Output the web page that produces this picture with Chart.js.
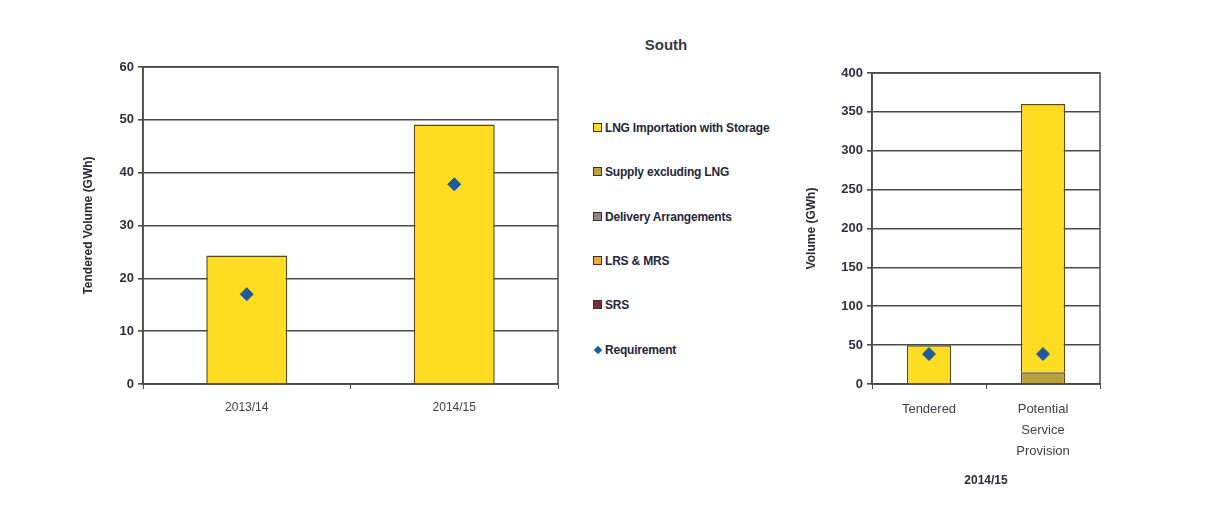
<!DOCTYPE html>
<html>
<head>
<meta charset="utf-8">
<script src="https://cdn.jsdelivr.net/npm/chart.js@4.4.0/dist/chart.umd.min.js"></script>
<style>
  html, body { margin: 0; padding: 0; background: #ffffff; }
  #wrap { position: relative; width: 1210px; height: 523px; overflow: hidden; background: #fff; }
  .box { position: absolute; }
  #title { position: absolute; left: 566px; top: 36px; width: 200px; text-align: center;
           font: bold 15px "Liberation Sans", Arial, sans-serif; color: #3a3a44; }
  #legend { position: absolute; left: 593px; top: 118px; font: bold 12px "Liberation Sans", Arial, sans-serif; color: #26263a; letter-spacing: -0.2px; }
  .li { position: absolute; left: 0; white-space: nowrap; height: 20px; line-height: 20px; }
  .mk { display: inline-block; width: 7px; height: 7px; border: 1.5px solid #3a3320; vertical-align: middle; margin-right: 3px; margin-top: -2px; }
  .dm { display: inline-block; width: 6px; height: 6px; background: #1f5a9c; transform: rotate(45deg); vertical-align: middle; margin: -2px 4px 0 2px; }
</style>
</head>
<body>
<div id="wrap">
  <div id="title">South</div>
  <div class="box" style="left:60px; top:50px; width:520px; height:380px;"><canvas id="left"></canvas></div>
  <div class="box" style="left:790px; top:50px; width:320px; height:470px;"><canvas id="right"></canvas></div>
  <div id="legend"></div>
</div>
<script>
// ---- data ----
const leftCategories = ['2013/14', '2014/15'];
const leftTendered = [24.3, 49.1];
const leftRequirement = [17, 37.8];

const rightCategories = [['Tendered'], ['Potential', 'Service', 'Provision']];
const rightAxisTitle = '2014/15';
const srs = [0, 0];
const lrsMrs = [0, 0];
const deliveryArrangements = [0, 0];
const supplyExclLNG = [0, 15];
const lngImportation = [50, 345];
const rightRequirement = [38.5, 38.5];

const seriesNames = ['LNG Importation with Storage', 'Supply excluding LNG', 'Delivery Arrangements', 'LRS & MRS', 'SRS', 'Requirement'];
const leftTicks = { min: 0, max: 60, step: 10 };
const rightTicks = { min: 0, max: 400, step: 50 };

// ---- styles ----
const COL = {
  lng: '#fddc22', supply: '#b9a040', delivery: '#8a8a8a', lrs: '#f0a832', srs: '#7d2a3a',
  req: '#1f5a9c', border: '#5a4a18', grid: '#4a4a4a'
};
const FONT = '"Liberation Sans", Arial, sans-serif';
const tickFont = { family: FONT, size: 13, weight: 'bold' };
const tickColor = '#30303c';

// legend
const legendColors = [COL.lng, COL.supply, COL.delivery, COL.lrs, COL.srs];
const legendYs = [0, 44, 89, 133, 177, 222];
const legendEl = document.getElementById('legend');
seriesNames.forEach((n, i) => {
  const d = document.createElement('div');
  d.className = 'li';
  d.style.top = legendYs[i] + 'px';
  if (i < 5) {
    d.innerHTML = '<span class="mk" style="background:' + legendColors[i] + '"></span>';
  } else {
    d.innerHTML = '<span class="dm"></span>';
  }
  d.appendChild(document.createTextNode(n));
  legendEl.appendChild(d);
});

const frame = {
  id: 'frame',
  beforeDatasetsDraw(chart) {
    const a = chart.chartArea, ctx = chart.ctx;
    ctx.save();
    ctx.strokeStyle = COL.grid;
    ctx.lineWidth = 1.5;
    ctx.strokeRect(a.left, a.top, a.right - a.left, a.bottom - a.top);
    ctx.restore();
  }
};

function yScale(t, title, titlePad, width) {
  return {
    min: t.min, max: t.max,
    ticks: { stepSize: t.step, font: tickFont, color: tickColor, padding: 4 },
    grid: { color: COL.grid, lineWidth: 1.6, tickLength: 5, drawTicks: true },
    border: { display: true, color: COL.grid, width: 1.6 },
    title: { display: true, text: title, font: { family: FONT, size: 12, weight: 'bold' }, color: '#2a2a38', padding: { top: titlePad, bottom: 0 } },
    afterFit(s) { s.width = width; }
  };
}

// ---- left chart ----
new Chart(document.getElementById('left'), {
  data: {
    labels: leftCategories,
    datasets: [
      { type: 'line', label: 'Requirement', data: leftRequirement, showLine: false,
        pointStyle: 'rectRot', pointRadius: 6.5, backgroundColor: COL.req, borderColor: COL.req, order: 0 },
      { type: 'bar', label: 'Tendered', data: leftTendered, backgroundColor: COL.lng,
        borderColor: COL.border, borderWidth: 1.5, barPercentage: 0.39, categoryPercentage: 1, order: 1 }
    ]
  },
  options: {
    responsive: true, maintainAspectRatio: false, animation: false,
    layout: { padding: { top: 17, right: 22, bottom: 0, left: 0 } },
    plugins: { legend: { display: false }, tooltip: { enabled: false } },
    scales: {
      x: {
        ticks: { font: { family: FONT, size: 12 }, color: '#40404a', padding: 11 },
        grid: { display: true, drawOnChartArea: false, drawTicks: true, tickLength: 5, color: COL.grid },
        border: { display: true, color: COL.grid, width: 1.6 },
        afterFit(s) { s.height = 46; }
      },
      y: yScale(leftTicks, 'Tendered Volume (GWh)', 21, 83)
    }
  },
  plugins: [frame]
});

// ---- right chart ----
const stackBar = (label, data, color) => ({
  type: 'bar', label, data, backgroundColor: color, borderColor: COL.border, borderWidth: 1.5,
  barPercentage: 0.39, categoryPercentage: 1, stack: 'supply', order: 1
});
new Chart(document.getElementById('right'), {
  data: {
    labels: rightCategories,
    datasets: [
      { type: 'line', label: 'Requirement', data: rightRequirement, showLine: false, stack: 'req',
        pointStyle: 'rectRot', pointRadius: 6.5, backgroundColor: COL.req, borderColor: COL.req, order: 0 },
      stackBar('SRS', srs, COL.srs),
      stackBar('LRS & MRS', lrsMrs, COL.lrs),
      stackBar('Delivery Arrangements', deliveryArrangements, COL.delivery),
      stackBar('Supply excluding LNG', supplyExclLNG, COL.supply),
      stackBar('LNG Importation with Storage', lngImportation, COL.lng)
    ]
  },
  options: {
    responsive: true, maintainAspectRatio: false, animation: false,
    layout: { padding: { top: 23, right: 10, bottom: 0, left: 0 } },
    plugins: { legend: { display: false }, tooltip: { enabled: false } },
    scales: {
      x: {
        stacked: true,
        ticks: { font: { family: FONT, size: 13, lineHeight: 1.6 }, color: '#40404a', padding: 10 },
        grid: { display: true, drawOnChartArea: false, drawTicks: true, tickLength: 5, color: COL.grid },
        border: { display: true, color: COL.grid, width: 1.6 },
        title: { display: true, text: rightAxisTitle, font: { family: FONT, size: 12, weight: 'bold' }, color: '#2a2a38', padding: { top: 4, bottom: 32 } },
        afterFit(s) { s.height = 136; }
      },
      y: Object.assign(yScale(rightTicks, 'Volume (GWh)', 14, 82), { stacked: true })
    }
  },
  plugins: [frame]
});
</script>
</body>
</html>
